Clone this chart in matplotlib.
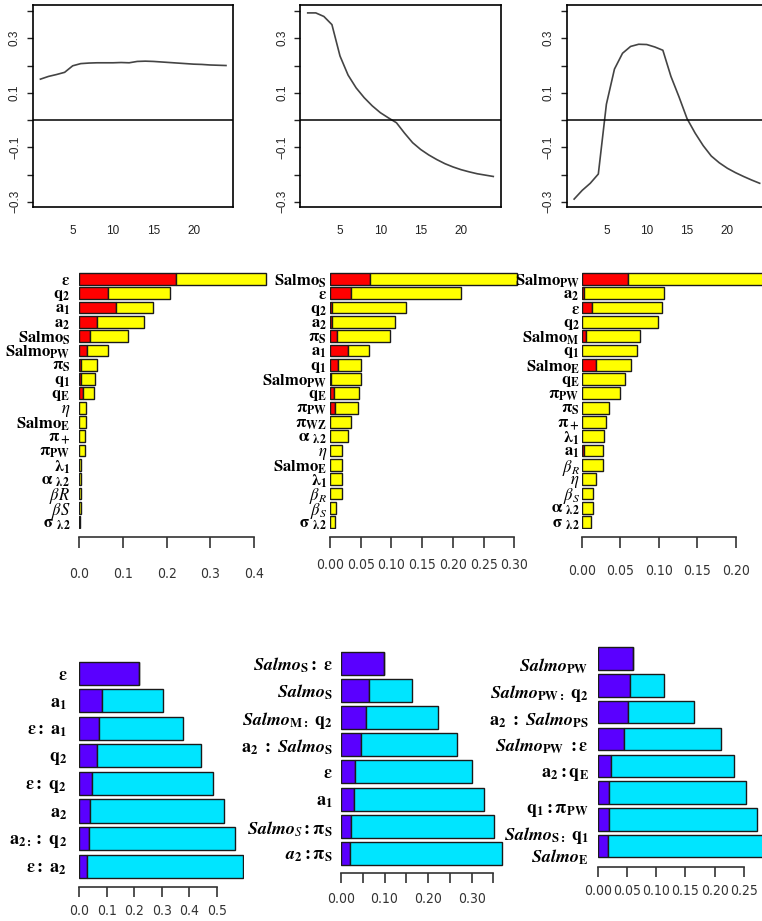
import numpy as np
import matplotlib
matplotlib.use('Agg')
import matplotlib.pyplot as plt
from matplotlib import font_manager as fm

plt.rcParams['font.family'] = ['Liberation Sans', 'DejaVu Sans']
plt.rcParams['mathtext.fontset'] = 'stix'

# ---- top row: response along the 24 steps
steps = np.arange(1, 25)
curve_a = [0.150, 0.160, 0.167, 0.175, 0.199, 0.207, 0.209, 0.210, 0.210, 0.210, 0.211, 0.210,
           0.215, 0.216, 0.215, 0.213, 0.211, 0.209, 0.207, 0.205, 0.204, 0.202, 0.201, 0.200]
curve_b = [0.393, 0.393, 0.380, 0.350, 0.235, 0.165, 0.118, 0.082, 0.052, 0.027, 0.008, -0.010,
           -0.048, -0.083, -0.108, -0.128, -0.145, -0.160, -0.172, -0.182, -0.190, -0.197, -0.202, -0.207]
curve_c = [-0.290, -0.258, -0.232, -0.198, 0.058, 0.187, 0.245, 0.270, 0.278, 0.277, 0.268, 0.256,
           0.160, 0.085, 0.005, -0.048, -0.094, -0.132, -0.157, -0.177, -0.193, -0.207, -0.220, -0.232]
curve_yticks = [-0.3, -0.2, -0.1, 0.0, 0.1, 0.2, 0.3, 0.4]
curve_ylabels = ['\u22120.3', '', '\u22120.1', '', '0.1', '', '0.3', '']
curve_xticks = [5, 10, 15, 20]

# ---- middle row: red part / total (yellow)
mid_labels_a = [r'$\mathbf{\varepsilon}$', r'$\mathbf{q_2}$', r'$\mathbf{a_1}$', r'$\mathbf{a_2}$',
                r'$\mathbf{Salmo_S}$', r'$\mathbf{Salmo_{PW}}$', r'$\mathbf{\pi_S}$', r'$\mathbf{q_1}$',
                r'$\mathbf{q_E}$', r'$\eta$', r'$\mathbf{Salmo_E}$', r'$\mathbf{\pi_+}$',
                r'$\mathbf{\pi_{PW}}$', r'$\mathbf{\lambda_1}$', r'$\mathbf{\alpha}\ {}_{\mathbf{\lambda 2}}$',
                r'$\beta R$', r'$\beta S$', r'$\mathbf{\sigma}\ {}_{\mathbf{\lambda 2}}$']
mid_red_a = [0.221, 0.065, 0.084, 0.040, 0.024, 0.017, 0.004, 0.005, 0.008,
             0, 0, 0, 0, 0, 0, 0, 0, 0]
mid_total_a = [0.427, 0.208, 0.169, 0.148, 0.111, 0.066, 0.041, 0.035, 0.034,
               0.0145, 0.0145, 0.012, 0.013, 0.005, 0.005, 0.004, 0.004, 0.001]

mid_labels_b = [r'$\mathbf{Salmo_S}$', r'$\mathbf{\varepsilon}$', r'$\mathbf{q_2}$', r'$\mathbf{a_2}$',
                r'$\mathbf{\pi_S}$', r'$\mathbf{a_1}$', r'$\mathbf{q_1}$', r'$\mathbf{Salmo_{PW}}$',
                r'$\mathbf{q_E}$', r'$\mathbf{\pi_{PW}}$', r'$\mathbf{\pi_{WZ}}$',
                r'$\mathbf{\alpha}\ {}_{\mathbf{\lambda 2}}$', r'$\eta$', r'$\mathbf{Salmo_E}$',
                r'$\mathbf{\lambda_1}$', r'$\beta_R$', r'$\beta_S$', r'$\mathbf{\sigma}\ {}_{\mathbf{\lambda 2}}$']
mid_red_b = [0.065, 0.034, 0.004, 0.004, 0.012, 0.030, 0.013, 0.002, 0.006,
             0.008, 0, 0, 0, 0, 0, 0, 0, 0]
mid_total_b = [0.304, 0.214, 0.123, 0.106, 0.097, 0.063, 0.050, 0.051, 0.047,
               0.046, 0.034, 0.030, 0.0195, 0.0195, 0.0195, 0.019, 0.009, 0.008]

mid_labels_c = [r'$\mathbf{Salmo_{PW}}$', r'$\mathbf{a_2}$', r'$\mathbf{\varepsilon}$', r'$\mathbf{q_2}$',
                r'$\mathbf{Salmo_M}$', r'$\mathbf{q_1}$', r'$\mathbf{Salmo_E}$', r'$\mathbf{q_E}$',
                r'$\mathbf{\pi_{PW}}$', r'$\mathbf{\pi_S}$', r'$\mathbf{\pi_+}$', r'$\mathbf{\lambda_1}$',
                r'$\mathbf{a_1}$', r'$\beta_R$', r'$\eta$', r'$\beta_S$',
                r'$\mathbf{\alpha}\ {}_{\mathbf{\lambda 2}}$', r'$\mathbf{\sigma}\ {}_{\mathbf{\lambda 2}}$']
mid_red_c = [0.060, 0.003, 0.013, 0, 0.005, 0, 0.018, 0, 0,
             0, 0, 0, 0.003, 0, 0, 0, 0, 0]
mid_total_c = [0.26, 0.107, 0.104, 0.099, 0.076, 0.072, 0.064, 0.056, 0.050,
               0.036, 0.032, 0.029, 0.027, 0.027, 0.019, 0.015, 0.015, 0.012]

# ---- bottom row: purple part / total (cyan)
bot_labels_a = [r'$\mathbf{\varepsilon}$', r'$\mathbf{a_1}$', r'$\mathbf{\varepsilon:\ a_1}$',
                r'$\mathbf{q_2}$', r'$\mathbf{\varepsilon:\ q_2}$', r'$\mathbf{a_2}$',
                r'$\mathbf{a_{2:}:\ q_2}$', r'$\mathbf{\varepsilon:\ a_2}$']
bot_main_a = [0.218, 0.081, 0.073, 0.063, 0.045, 0.039, 0.036, 0.029]
bot_total_a = [0.218, 0.303, 0.376, 0.442, 0.488, 0.528, 0.567, 0.595]

bot_labels_b = [r'$\mathbfit{Salmo}_{\mathbf{S}}\mathbf{:\ \varepsilon}$', r'$\mathbfit{Salmo}_{\mathbf{S}}$',
                r'$\mathbfit{Salmo}_{\mathbf{M:}}\mathbf{\ q_2}$', r'$\mathbf{a_2\ :\ }\mathbfit{Salmo}_{\mathbf{S}}$',
                r'$\mathbf{\varepsilon}$', r'$\mathbf{a_1}$',
                r'$\mathbfit{Salmo}_{\mathit{S}}\mathbf{:\pi_S}$', r'$\mathbfit{a}_{\mathbf{2}}\mathbf{:\pi_S}$']
bot_main_b = [0.0995, 0.065, 0.057, 0.045, 0.033, 0.030, 0.023, 0.021]
bot_total_b = [0.0995, 0.164, 0.222, 0.266, 0.301, 0.329, 0.351, 0.371]

bot_labels_c = [r'$\mathbfit{Salmo}_{\mathbf{PW}}$', r'$\mathbfit{Salmo}_{\mathbf{PW:}}\mathbf{\ q_2}$',
                r'$\mathbf{a_2\ :\ }\mathbfit{Salmo}_{\mathbf{PS}}$', r'$\mathbfit{Salmo}_{\mathbf{PW}}\mathbf{\ :\varepsilon}$',
                r'$\mathbf{a_2:q_E}$', r'$\mathbf{q_1:\pi_{PW}}$',
                r'$\mathbfit{Salmo}_{\mathbf{S:}}\mathbf{\ q_1}$', r'$\mathbfit{Salmo}_{\mathbf{E}}$']
bot_main_c = [0.061, 0.055, 0.052, 0.045, 0.022, 0.020, 0.019, 0.018]
bot_total_c = [0.061, 0.114, 0.165, 0.210, 0.233, 0.253, 0.272, 0.30]

W, H = 762, 921
fig = plt.figure(figsize=(W / 100, H / 100), dpi=100)
PT = 72 / 100  # points per pixel

# narrow font for the bar chart axes, if there is one
tick_font = {'family': 'Liberation Sans', 'stretch': 'normal', 'size': 9}
for f in fm.fontManager.ttflist:
    if f.name == 'Liberation Sans Narrow':
        tick_font = {'family': f.name, 'stretch': 'normal', 'size': 10}
        break
else:
    for f in fm.fontManager.ttflist:
        if 'condensed' in str(f.stretch).lower() and 'Sans' in f.name and 'Mono' not in f.name:
            tick_font = {'family': f.name, 'stretch': 'condensed', 'size': 10}
            break


def add_ax(x0, y0, x1, y1):
    return fig.add_axes([x0 / W, 1 - y1 / H, (x1 - x0) / W, (y1 - y0) / H])


def curve_panel(x0, x1, y):
    ax = add_ax(x0, 5, x1, 207)
    ax.plot(steps, y, color='#444444', lw=1.2)
    ax.axhline(0, color='black', lw=1.1)
    ax.set_xlim(0.08, 24.92)
    ax.set_ylim(-0.319, 0.422)
    ax.set_xticks(curve_xticks)
    ax.set_yticks(curve_yticks, curve_ylabels)
    for s in ax.spines.values():
        s.set_linewidth(1.2)
    ax.tick_params(axis='x', length=0, pad=17.5 * PT, labelsize=8.5, colors='#222222')
    ax.tick_params(axis='y', length=6 * PT, width=1.0, pad=6 * PT, labelsize=8.5,
                   labelrotation=90, colors='#222222')
    for t in ax.get_yticklabels():
        t.set_va('center')
    return ax


curve_panel(33, 233.4, curve_a)
curve_panel(300.3, 500.7, curve_b)
curve_panel(566.7, 767.1, curve_c)


def bar_panel(zero, ppu, top, bottom, xmax, labels, part, total, c_part, c_rest,
              ticks, ticklabels, height, axis_gap, tick_len, lab_pad, name_pad, name_fs,
              name_shift=None):
    ax = add_ax(zero, top, zero + xmax * ppu, bottom)
    n = len(labels)
    pos = np.arange(n)
    rest = np.subtract(total, part)
    ax.barh(pos, part, height=height, color=c_part, edgecolor='#1a1a1a', lw=1.0)
    ax.barh(pos, rest, left=part, height=height, color=c_rest, edgecolor='#1a1a1a', lw=1.0)
    ax.set_ylim(n - 0.5, -0.5)
    ax.set_xlim(0, xmax)
    for side in ['top', 'right', 'left']:
        ax.spines[side].set_visible(False)
    sp = ax.spines['bottom']
    sp.set_position(('outward', axis_gap * PT))
    sp.set_bounds(ticks[0], ticks[-1])
    sp.set_linewidth(1.2)
    sp.set_color('#333333')
    ax.set_xticks(ticks, ticklabels)
    ax.tick_params(axis='x', length=tick_len * PT, width=1.2, color='#333333',
                   pad=lab_pad * PT, labelcolor='#333333')
    for t in ax.get_xticklabels():
        t.set_family(tick_font['family'])
        t.set_stretch(tick_font['stretch'])
        t.set_size(tick_font['size'])
    ypos = pos if name_shift is None else pos + np.asarray(name_shift)
    ax.set_yticks(ypos, labels)
    ax.tick_params(axis='y', length=0, pad=name_pad * PT, labelsize=name_fs)
    return ax


t_mid_a = [0.0, 0.1, 0.2, 0.3, 0.4]
t_mid_b = [0.0, 0.05, 0.10, 0.15, 0.20, 0.25, 0.30]
t_mid_c = [0.0, 0.05, 0.10, 0.15, 0.20]

bar_panel(79.3, 436.7, 271.8, 529.2, 0.44, mid_labels_a, mid_red_a, mid_total_a, '#ff0000', '#ffff00',
          t_mid_a, ['0.0', '0.1', '0.2', '0.3', '0.4'], 0.83, 7.5, 11, 19, 9, 12)
bar_panel(330, 614.3, 271.8, 529.2, 0.31, mid_labels_b, mid_red_b, mid_total_b, '#ff0000', '#ffff00',
          t_mid_b, ['0.00', '0.05', '0.10', '0.15', '0.20', '0.25', '0.30'], 0.83, 7.5, 11, 10, 3, 12)
bar_panel(581.7, 771.7, 271.8, 529.2, 0.26, mid_labels_c, mid_red_c, mid_total_c, '#ff0000', '#ffff00',
          t_mid_c, ['0.00', '0.05', '0.10', '0.15', '0.20'], 0.83, 7.5, 11, 16, 2, 12)

t_bot_a = [0.0, 0.1, 0.2, 0.3, 0.4, 0.5]
t_bot_b = [0.0, 0.05, 0.10, 0.15, 0.20, 0.25, 0.30, 0.35]
t_bot_c = [0.0, 0.05, 0.10, 0.15, 0.20, 0.25]

bar_panel(79.3, 274.7, 659.5, 879.9, 0.60, bot_labels_a, bot_main_a, bot_total_a, '#5a00ff', '#00e5ff',
          t_bot_a, ['0.0', '0.1', '0.2', '0.3', '0.4', '0.5'], 0.84, 6.8, 10, 7, 12, 13)
bar_panel(341, 435.3, 649.5, 867.1, 0.38, bot_labels_b, bot_main_b, bot_total_b, '#5a00ff', '#00e5ff',
          t_bot_b, ['0.00', '', '0.10', '', '0.20', '', '0.30', ''], 0.84, 6.2, 10, 9, 8, 13)
bar_panel(597.7, 585.3, 645.2, 859.6, 0.30, bot_labels_c, bot_main_c, bot_total_c, '#5a00ff', '#00e5ff',
          t_bot_c, ['0.00', '0.05', '0.10', '0.15', '0.20', '0.25'], 0.84, 7.0, 10, 7, 9, 13,
          name_shift=[0.2, 0.2, 0.2, 0.2, 0.2, 0.55, 0.5, 0.35])

fig.savefig('out.png', dpi=100)
